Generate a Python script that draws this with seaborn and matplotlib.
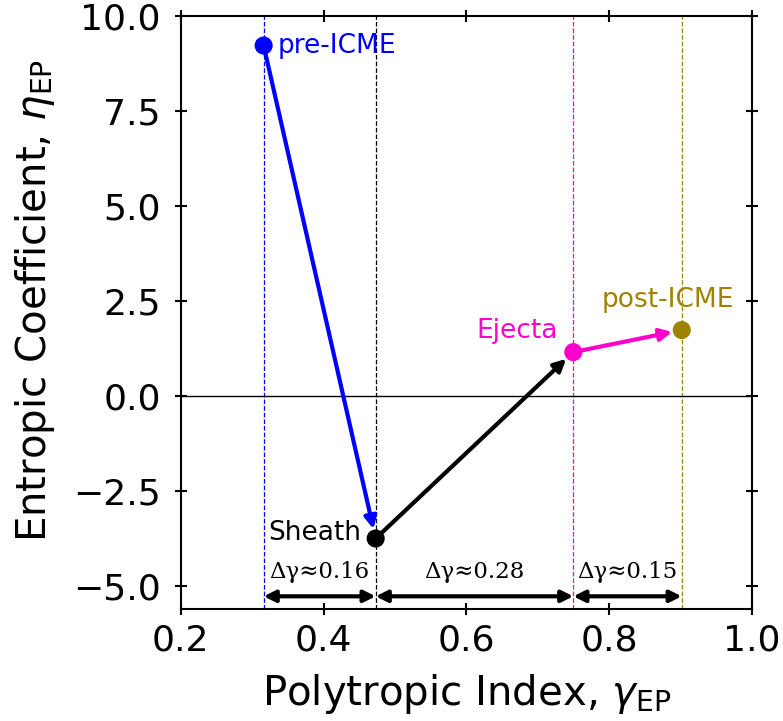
import numpy as np
import pandas as pd
import matplotlib
matplotlib.use('Agg')
import matplotlib.pyplot as plt
import seaborn as sns

# données
regions = ['pre-ICME', 'Sheath', 'Ejecta', 'post-ICME']
gamma_ep = [0.316, 0.473, 0.750, 0.902]
eta_ep = [9.22, -3.74, 1.16, 1.74]
couleurs = ['blue', 'black', '#ff00cc', '#9e8200']
delta_labels = ['Δγ≈0.16', 'Δγ≈0.28', 'Δγ≈0.15']

df = pd.DataFrame({'region': regions, 'gamma': gamma_ep, 'eta': eta_ep})

sns.set_style('ticks', rc={'text.color': 'black', 'axes.labelcolor': 'black',
                           'xtick.color': 'black', 'ytick.color': 'black',
                           'axes.edgecolor': 'black'})
plt.rcParams['font.family'] = ['DejaVu Sans']

fig = plt.figure(figsize=(7.83, 7.21), dpi=100)
ax = fig.add_axes([0.231, 0.155, 0.729, 0.823])

# lignes verticales pointillées
for g, c in zip(gamma_ep, couleurs):
    ax.axvline(g, color=c, linestyle='--', linewidth=0.9, zorder=1)

ax.axhline(0, color='black', linewidth=1.0, zorder=1)

# flèches entre les régions
for i in range(len(regions) - 1):
    ax.annotate('', xy=(gamma_ep[i + 1], eta_ep[i + 1]), xytext=(gamma_ep[i], eta_ep[i]),
                arrowprops=dict(arrowstyle='-|>', color=couleurs[i], lw=3,
                                mutation_scale=18, shrinkA=0, shrinkB=7), zorder=2)

sns.scatterplot(data=df, x='gamma', y='eta', hue='region', palette=couleurs,
                s=170, edgecolor='none', legend=False, ax=ax, zorder=3)

# étiquettes des régions
ax.text(gamma_ep[0] + 0.02, eta_ep[0], 'pre-ICME', color=couleurs[0], fontsize=19,
        ha='left', va='center')
ax.text(gamma_ep[1] - 0.02, eta_ep[1] + 0.15, 'Sheath', color=couleurs[1], fontsize=19,
        ha='right', va='center')
ax.text(gamma_ep[2] - 0.022, eta_ep[2] + 0.55, 'Ejecta', color=couleurs[2], fontsize=19,
        ha='right', va='center')
ax.text(gamma_ep[3] - 0.02, eta_ep[3] + 0.8, 'post-ICME', color=couleurs[3], fontsize=19,
        ha='center', va='center')

# flèches doubles et Δγ
for i in range(len(gamma_ep) - 1):
    ax.annotate('', xy=(gamma_ep[i + 1], -5.26), xytext=(gamma_ep[i], -5.26),
                arrowprops=dict(arrowstyle='<|-|>', color='black', lw=3,
                                mutation_scale=17, shrinkA=0, shrinkB=0))
    ax.text((gamma_ep[i] + gamma_ep[i + 1]) / 2, -4.62, delta_labels[i], fontsize=16.5,
            family='DejaVu Serif', ha='center', va='center')

ax.set_xlim(0.2, 1.0)
ax.set_ylim(-5.6, 10.0)
ax.set_xticks([0.2, 0.4, 0.6, 0.8, 1.0])
ax.set_yticks([-5.0, -2.5, 0.0, 2.5, 5.0, 7.5, 10.0])
ax.set_xticklabels(['0.2', '0.4', '0.6', '0.8', '1.0'])
ax.set_yticklabels(['−5.0', '−2.5', '0.0', '2.5', '5.0', '7.5', '10.0'])
ax.tick_params(direction='inout', length=8, width=1.5, labelsize=26,
               top=True, right=True)
ax.tick_params(axis='y', pad=10.5)
ax.tick_params(axis='x', pad=6.5)
for s in ax.spines.values():
    s.set_linewidth(1.5)
    s.set_visible(True)

ax.set_xlabel(r'Polytropic Index, $\gamma_{\rm EP}$', fontsize=29, labelpad=10)
ax.set_ylabel(r'Entropic Coefficient, $\eta_{\rm EP}$', fontsize=29, labelpad=11.5)
ax.yaxis.label.set_y(0.52)

fig.savefig('out.png', dpi=100)
